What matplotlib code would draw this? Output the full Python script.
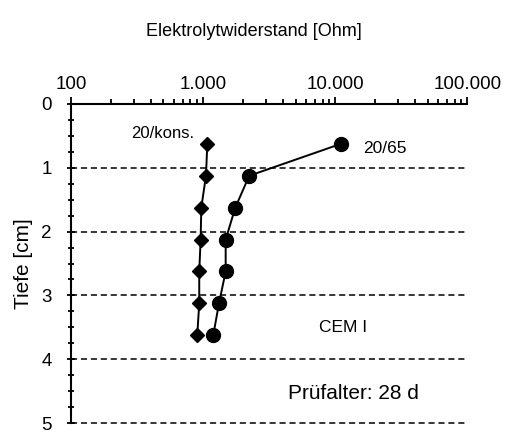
import numpy as np
import matplotlib.pyplot as plt
from matplotlib.ticker import MultipleLocator, LogLocator, NullFormatter

plt.rcParams['font.family'] = ['Liberation Sans', 'DejaVu Sans']

# Tiefe [cm] und Elektrolytwiderstand [Ohm]
tiefe = [0.625, 1.125, 1.625, 2.125, 2.625, 3.125, 3.625]
r_kons = [1075, 1050, 968, 957, 934, 934, 902]
tiefe_65 = [0.625, 1.125, 1.625, 2.125, 2.625, 3.125, 3.625]
r_65 = [11000, 2230, 1750, 1480, 1480, 1317, 1192]

x_ticks = [100, 1000, 10000, 100000]
x_labels = ['100', '1.000', '10.000', '100.000']

fig = plt.figure(figsize=(5.08, 4.32), dpi=100)
ax = fig.add_axes([71 / 508, 1 - 423 / 432, (467.5 - 71) / 508, (423 - 104) / 432])

ax.plot(r_kons, tiefe, color='black', lw=1.4, marker='D', ms=7.5, zorder=3)
ax.plot(r_65, tiefe_65, color='black', lw=1.4, marker='o', ms=10, zorder=3)

ax.set_xscale('log')
ax.set_xlim(100, 100000)
ax.set_ylim(5, 0)
ax.xaxis.tick_top()
ax.set_xticks(x_ticks)
ax.set_xticklabels(x_labels)
ax.xaxis.set_minor_locator(LogLocator(base=10, subs=np.arange(2, 10)))
ax.xaxis.set_minor_formatter(NullFormatter())
ax.set_yticks([0, 1, 2, 3, 4, 5])
ax.yaxis.set_minor_locator(MultipleLocator(0.25))

ax.tick_params(axis='x', which='major', direction='out', length=5, width=1.3, labelsize=13.5, pad=3)
ax.tick_params(axis='x', which='minor', direction='out', length=3.5, width=1.3)
ax.tick_params(axis='y', which='major', direction='inout', length=5.5, width=1.3, labelsize=13.5, pad=11)
ax.tick_params(axis='y', which='minor', direction='inout', length=4, width=1.3)

for s in ['right', 'bottom']:
    ax.spines[s].set_visible(False)
for s in ['top', 'left']:
    ax.spines[s].set_linewidth(1.5)

for y in [1, 2, 3, 4, 5]:
    ax.axhline(y, color='black', lw=1.1, ls=(0, (4, 2.5)), zorder=1, clip_on=False)

ax.set_ylabel('Tiefe [cm]', fontsize=15, labelpad=6)
fig.text(254 / 508, 1 - 32 / 432, 'Elektrolytwiderstand [Ohm]', ha='center', va='center', fontsize=13)

ax.text(490, 0.46, '20/kons.', ha='center', va='center', fontsize=12)
ax.text(16200, 0.69, '20/65', ha='left', va='center', fontsize=12.5)
ax.text(11400, 3.50, 'CEM I', ha='center', va='center', fontsize=12.5)
ax.text(13800, 4.53, 'Prüfalter: 28 d', ha='center', va='center', fontsize=15)

fig.savefig('out.png', dpi=100)
